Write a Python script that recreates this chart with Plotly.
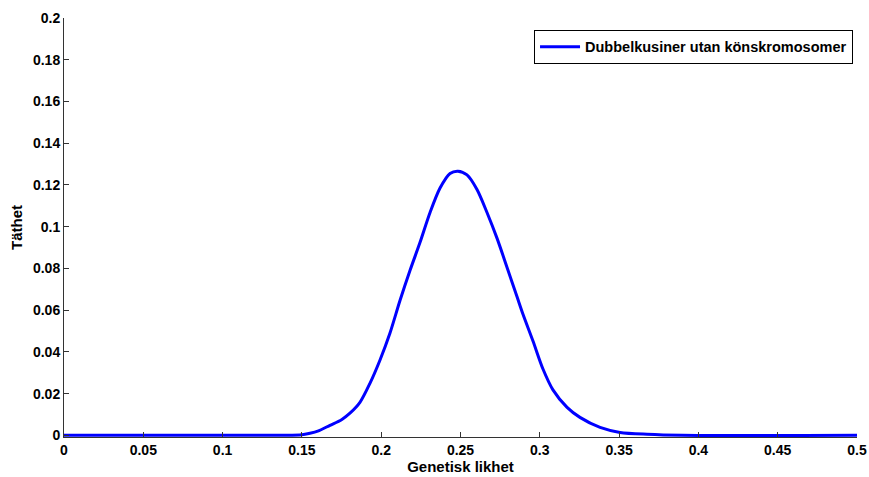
import plotly.graph_objects as go

# Data
likhet = [0.0, 0.10, 0.15, 0.155, 0.16, 0.1677, 0.175, 0.1803, 0.1866, 0.1929, 0.1992,
          0.2055, 0.2119, 0.2182, 0.2245, 0.2308, 0.2371, 0.2434, 0.2484, 0.2541,
          0.2604, 0.2667, 0.2730, 0.2793, 0.2856, 0.2894, 0.2957, 0.3020, 0.3083,
          0.3172, 0.3253, 0.3380, 0.3506, 0.3676, 0.39, 0.5]
tathet = [0.0, 0.0, 0.0003, 0.001, 0.002, 0.0048, 0.0075, 0.0106, 0.0158, 0.0249, 0.036,
          0.0489, 0.0647, 0.0791, 0.0925, 0.1068, 0.1185, 0.1255, 0.1266, 0.1248,
          0.1178, 0.1068, 0.0945, 0.0806, 0.0665, 0.0580, 0.0452, 0.0318, 0.0218,
          0.0134, 0.0086, 0.0038, 0.0014, 0.0005, 0.0, 0.0]
serie_namn = "Dubbelkusiner utan könskromosomer"
x_titel = "Genetisk likhet"
y_titel = "Täthet"

font_family = "Liberation Sans, Arial, sans-serif"

fig = go.Figure()
fig.add_trace(go.Scatter(
    x=likhet, y=tathet, mode="lines", name=serie_namn,
    line=dict(color="#0000FF", width=3, shape="spline", smoothing=0.8),
    showlegend=True,
))

axis_common = dict(
    showline=True, linecolor="#333333", linewidth=1,
    ticks="inside", ticklen=5, tickcolor="#333333", tickwidth=1,
    showgrid=False, zeroline=False, mirror=False, automargin=False,
    tickfont=dict(family=font_family, size=14, color="black", weight="bold"),
)

fig.update_layout(
    width=869, height=477,
    margin=dict(l=64, r=12, t=18, b=40),
    paper_bgcolor="white", plot_bgcolor="white",
    font=dict(family=font_family, size=14, color="black"),
    xaxis=dict(range=[0, 0.5], tick0=0, dtick=0.05,
               title=dict(text="<b>" + x_titel + "</b>", standoff=2,
                          font=dict(family=font_family, size=15, color="black")),
               **axis_common),
    yaxis=dict(range=[-0.0008, 0.2], tickvals=[0, 0.02, 0.04, 0.06, 0.08, 0.1, 0.12, 0.14, 0.16, 0.18, 0.2],
               ticktext=["0", "0.02", "0.04", "0.06", "0.08", "0.1", "0.12", "0.14", "0.16", "0.18", "0.2"],
               title=dict(text="<b>" + y_titel + "</b>", standoff=6,
                          font=dict(family=font_family, size=15, color="black")),
               **axis_common),
    legend=dict(x=0.995, y=0.972, xanchor="right", yanchor="top",
                bgcolor="white", bordercolor="black", borderwidth=1,
                font=dict(family=font_family, size=14.5, color="black", weight="bold"),
                itemwidth=40, tracegroupgap=0),
    showlegend=True,
)

fig.write_html("out.html")
